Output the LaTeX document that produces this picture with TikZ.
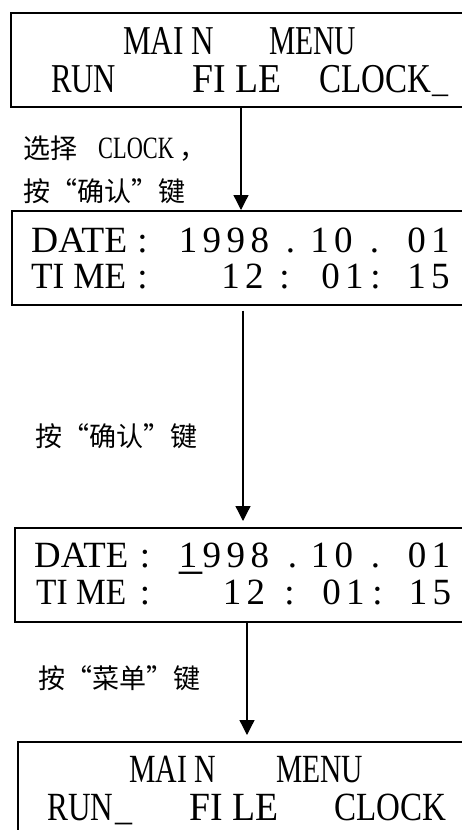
\documentclass[tikz,border=0pt]{standalone}
\usepackage{fontspec}
\usepackage{graphicx}
\setmainfont{Liberation Serif}
\newfontfamily\cond[FakeStretch=0.72]{Liberation Serif}
\newfontfamily\cjk{Noto Sans CJK SC}
\newfontfamily\cjkq[CharacterWidth=Full]{Noto Sans CJK SC}
\usetikzlibrary{arrows.meta}
\newcommand\sw[2]{\resizebox{#1}{\height}{#2}}
\newcommand\mono[1]{\monoloop#1\relax}
\def\monoloop#1{\ifx\relax#1\else\makebox[24pt][c]{#1}\expandafter\monoloop\fi}
\newcommand\myopq{{\cjkq “}}
\newcommand\myclq{{\cjkq ”}}
\begin{document}
\begin{tikzpicture}[x=1pt,y=-1pt,
  screen/.style={draw,line width=1.5pt,minimum width=480pt,minimum height=94pt,anchor=north west,inner sep=0pt},
  menu/.style={font=\fontsize{41}{41}\selectfont,anchor=base west,inner sep=0pt},
  lcd/.style={font=\fontsize{37}{37}\selectfont,anchor=base west,inner sep=0pt},
  lcdc/.style={font=\fontsize{37}{37}\selectfont,anchor=base,inner sep=0pt},
  lbl/.style={font=\cjk\fontsize{27}{27}\selectfont,anchor=west,inner sep=0pt},
  flow/.style={line width=1.3pt,-{Triangle[width=15pt,length=15pt]}}]
\useasboundingbox (0,0) rectangle (462,830);
\clip (0,0) rectangle (462,830);
% screens
\node[screen] (b1) at (10,12) {};
\node[screen] (b2) at (11,210) {};
\node[screen] (b3) at (14,527) {};
\node[screen] (b4) at (17,741) {};
% box 1
\node[menu] (m1a) at (123,54) {\sw{91pt}{MAI N}};
\node[menu] (m1b) at (269,54) {\sw{87pt}{MENU}};
\node[menu] (m1c) at (51,92) {\sw{65pt}{RUN}};
\node[menu] (m1d) at (192,92) {\sw{89pt}{FI LE}};
\node[menu] (m1e) at (319,92) {\sw{112pt}{CLOCK}};
\node[menu,font=\fontsize{32}{32}\selectfont] (m1f) at (432,92) {\_};
% box 2
\node[lcd] (d2a) at (31,252) {\sw{96pt}{DATE}};
\node[lcdc] (d2b) at (142.5,252) {:};
\node[lcdc] (d2c) at (224,252) {\mono{1998}};
\node[lcdc] (d2d) at (290.5,252) {.};
\node[lcdc] (d2e) at (331.5,252) {\mono{10}};
\node[lcdc] (d2f) at (374.5,252) {.};
\node[lcdc] (d2g) at (428.5,252) {\mono{01}};
\node[lcd] (t2a) at (31,288) {\sw{95pt}{TI ME}};
\node[lcdc] (t2b) at (142.5,288) {:};
\node[lcdc] (t2c) at (242.5,288) {\mono{12}};
\node[lcdc] (t2d) at (284.5,288) {:};
\node[lcdc] (t2e) at (342.5,288) {\mono{01}};
\node[lcdc] (t2f) at (375.5,288) {:};
\node[lcdc] (t2g) at (428.5,288) {\mono{15}};
% box 3
\node[lcd] (d3a) at (34,567) {\sw{94pt}{DATE}};
\node[lcdc] (d3b) at (145,567) {:};
\node[lcdc] (d3c) at (224,567) {\mono{1998}};
\node[lcdc] (d3d) at (292.5,567) {.};
\node[lcdc] (d3e) at (332,567) {\mono{10}};
\node[lcdc] (d3f) at (375.5,567) {.};
\node[lcdc] (d3g) at (429,567) {\mono{01}};
\node[lcd,font=\fontsize{46}{46}\selectfont] (d3h) at (179,568) {\_};
\node[lcd] (t3a) at (36,604) {\sw{90pt}{TI ME}};
\node[lcdc] (t3b) at (145,604) {:};
\node[lcdc] (t3c) at (244,604) {\mono{12}};
\node[lcdc] (t3d) at (289.5,604) {:};
\node[lcdc] (t3e) at (343.5,604) {\mono{01}};
\node[lcdc] (t3f) at (377.5,604) {:};
\node[lcdc] (t3g) at (430,604) {\mono{15}};
% box 4
\node[menu,font=\fontsize{40}{40}\selectfont] (m4a) at (129,782) {\sw{87pt}{MAI N}};
\node[menu,font=\fontsize{40}{40}\selectfont] (m4b) at (276,782) {\sw{87pt}{MENU}};
\node[menu,font=\fontsize{40}{40}\selectfont] (m4c) at (47,820) {\sw{66pt}{RUN}};
\node[menu,font=\fontsize{34}{34}\selectfont] (m4f) at (115,820) {\_};
\node[menu,font=\fontsize{40}{40}\selectfont] (m4d) at (189,820) {\sw{89pt}{FI LE}};
\node[menu,font=\fontsize{40}{40}\selectfont] (m4e) at (334,820) {\sw{112pt}{CLOCK}};
% labels
\node[lbl] (l1a) at (23,149) {选择\hspace{15pt} {\cond\fontsize{31}{31}\selectfont CLOCK}\hspace{6pt}，};
\node[lbl] (l1b) at (23,191) {按\myopq 确认\myclq 键};
\node[lbl] (l2) at (35,436) {按\myopq 确认\myclq 键};
\node[lbl] (l3) at (38,678) {按\myopq 菜单\myclq 键};
% connectors
\coordinate (a1) at (241,0);
\coordinate (a2) at (243,0);
\coordinate (a3) at (247,0);
\draw[flow] (b1.south -| a1) -- (b2.north -| a1);
\draw[flow,shorten <=5pt,shorten >=6pt] (b2.south -| a2) -- (b3.north -| a2);
\draw[flow,shorten >=6pt] (b3.south -| a3) -- (b4.north -| a3);
\end{tikzpicture}
\end{document}
